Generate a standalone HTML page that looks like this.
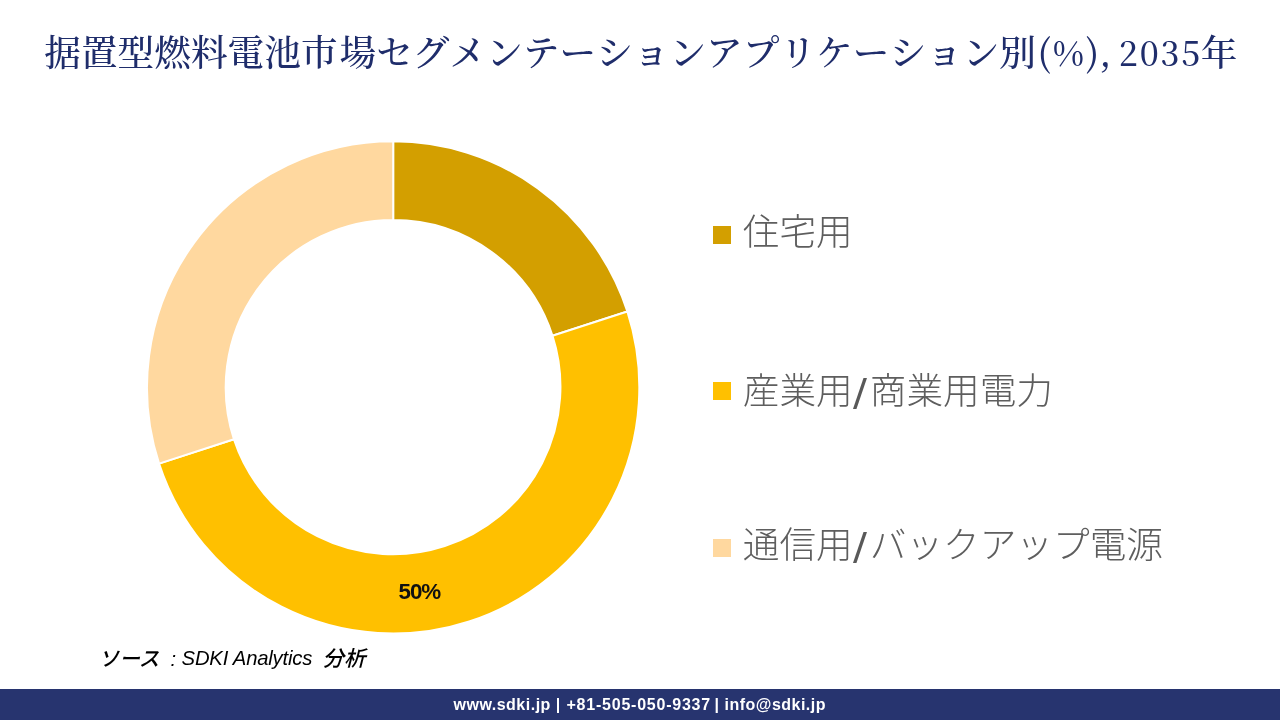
<!DOCTYPE html>
<html lang="ja"><head><meta charset="utf-8"><title>据置型燃料電池市場</title>
<style>
html,body{margin:0;padding:0;background:#fff;}
body{width:1280px;height:720px;position:relative;overflow:hidden;font-family:"Liberation Sans","Noto Sans CJK JP",sans-serif;}
.title{position:absolute;left:44.3px;top:22px;white-space:nowrap;font-family:"Noto Serif CJK JP","Noto Serif CJK SC","Liberation Serif",serif;font-weight:500;font-size:36.67px;line-height:56px;color:#1F2D6B;letter-spacing:0;font-kerning:none;font-feature-settings:"palt" 0,"kern" 0;}
.title .k{margin-left:2px;}
.title .sp{letter-spacing:-2px;}
.title .par{margin-left:1.5px;}
.title .y{margin-left:-1.5px;}
.title .n{font-size:33.5px;letter-spacing:1.85px;}
.title .pc{letter-spacing:0;margin:0 1.5px;}
.chart{position:absolute;left:0;top:0;}
.lg{position:absolute;left:713.2px;white-space:nowrap;color:#5e5e5e;font-family:"Liberation Sans","Noto Sans CJK JP",sans-serif;font-weight:300;font-size:36.67px;line-height:48px;font-kerning:none;}
.lg i{position:absolute;left:0;width:17.7px;height:17.6px;display:block;}
.lg span{position:absolute;left:29.6px;top:1.2px;}
.lg .s{display:inline-block;width:17px;font-family:"DejaVu Sans","Liberation Sans",sans-serif;font-weight:400;font-size:37px;line-height:1;text-indent:0px;color:#595959;vertical-align:baseline;transform:scaleX(1.12);transform-origin:0 50%;position:relative;top:1px;}
.lg.r2 span{top:4.2px;}
.pct{position:absolute;left:398.6px;top:579.6px;font-weight:bold;font-size:22.4px;line-height:24px;color:#111;letter-spacing:-1.1px;}
.src{position:absolute;left:0;top:645.2px;width:500px;height:30px;font-style:italic;font-size:20.2px;line-height:26px;color:#000;white-space:nowrap;}
.src span{position:absolute;top:0;display:block;}
.src .a{left:98.6px;top:1px;font-weight:400;font-size:20.6px;}
.src .b{left:170.6px;top:0.5px;}
.src .c{left:181.6px;font-size:20.3px;letter-spacing:-0.2px;}
.src .d{left:322.6px;top:0.5px;font-weight:400;font-size:21.4px;}
.foot{position:absolute;left:0;top:689px;width:1280px;height:31px;background:#27346F;color:#fff;font-weight:bold;font-size:16px;line-height:30px;white-space:nowrap;}
.foot span{position:absolute;top:0.8px;display:block;}
.foot .f1{left:453.5px;letter-spacing:0.5px;}
.foot .f2{left:555.8px;}
.foot .f3{left:566.5px;letter-spacing:0.77px;}
.foot .f4{left:714.5px;}
.foot .f5{left:724.6px;letter-spacing:0.48px;}
.src .a,.src .d{font-weight:500 !important;}
</style></head><body>
<div class="title">据置型燃料電池市<span class="k">場セグメンテーションアプリケーション別<span class="par">(<span class="n pc">%</span>),</span></span><span class="sp">&nbsp;</span><span class="n">2035</span><span class="y">年</span></div>
<svg class="chart" width="1280" height="720" viewBox="0 0 1280 720">
<path d="M393.20 141.35A246.2 246.2 0 0 1 627.35 311.47L552.50 335.79A167.5 167.5 0 0 0 393.20 220.05Z" fill="#D39F00" stroke="#fff" stroke-width="2" stroke-linejoin="round"/>
<path d="M627.35 311.47A246.2 246.2 0 0 1 159.05 463.63L233.90 439.31A167.5 167.5 0 0 0 552.50 335.79Z" fill="#FFC000" stroke="#fff" stroke-width="2" stroke-linejoin="round"/>
<path d="M159.05 463.63A246.2 246.2 0 0 1 393.20 141.35L393.20 220.05A167.5 167.5 0 0 0 233.90 439.31Z" fill="#FFD89F" stroke="#fff" stroke-width="2" stroke-linejoin="round"/>
</svg>
<div class="pct">50%</div>
<div class="lg" style="top:208px"><i style="background:#D39F00;top:18.2px"></i><span>住宅用</span></div>
<div class="lg r2" style="top:364.3px"><i style="background:#FFC000;top:18.1px"></i><span>産業用<b class="s">/</b>商業用電力</span></div>
<div class="lg" style="top:521px"><i style="background:#FFD89F;top:18.2px"></i><span>通信用<b class="s">/</b>バックアップ電源</span></div>
<div class="src"><span class="a">ソース</span> <span class="b">:</span> <span class="c">SDKI Analytics</span> <span class="d">分析</span></div>
<div class="foot"><span class="f1">www.sdki.jp</span> <span class="f2">|</span> <span class="f3">+81-505-050-9337</span> <span class="f4">|</span> <span class="f5">info@sdki.jp</span></div>
</body></html>
